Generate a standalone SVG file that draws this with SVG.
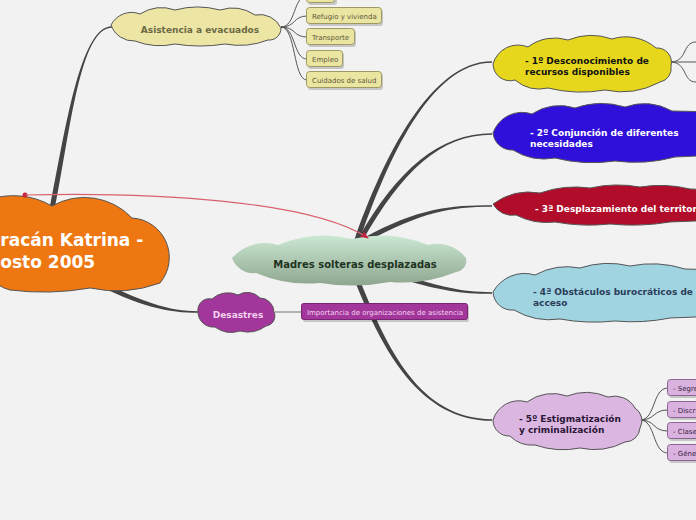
<svg xmlns="http://www.w3.org/2000/svg" width="696" height="520" viewBox="0 0 696 520">
<defs>
<linearGradient id="gc" x1="0" y1="0" x2="0" y2="1">
<stop offset="0" stop-color="#cbe8d2"/>
<stop offset="1" stop-color="#8ea68f"/>
</linearGradient>
<marker id="arr" viewBox="0 0 10 10" refX="9" refY="5" markerWidth="9" markerHeight="9" orient="auto" markerUnits="userSpaceOnUse">
<path d="M0,1 L10,5 L0,9 L3,5 Z" fill="#c8203c"/>
</marker>
</defs>
<style>
.cl{stroke:#555;stroke-width:1}
.tap{fill:#444}
.thin{fill:none;stroke:#555;stroke-width:1}
.t{font-family:"DejaVu Sans",Verdana,sans-serif;font-weight:bold}
.lf{font-family:"DejaVu Sans",Verdana,sans-serif;font-size:7px}
.ybox{fill:#ebe5a2;stroke:#9e9a62;stroke-width:1}
.pbox{fill:#d9b2df;stroke:#8a6690;stroke-width:1}
.sh{fill:#000;opacity:0.18}
</style>
<rect width="696" height="520" fill="#f2f2f2"/>

<g id="connectors">
<path class="tap" d="M359.4,240.8 C387.4,160.8 430,62.8 492,62.8 L492,61.2 C430,61.2 382.6,159.2 354.6,239.2 Z"/>
<path class="tap" d="M362.2,241.2 C402.2,171.2 440,134.8 492,134.8 L492,133.2 C440,133.2 397.8,168.8 357.8,238.8 Z"/>
<path class="tap" d="M366.2,242.2 C421.2,212.2 450,206.8 492,206.8 L492,205.2 C450,205.2 418.8,207.8 363.8,237.8 Z"/>
<path class="tap" d="M404.5,279.9 C439.5,289.9 460,293.8 492,293.8 L492,292.2 C460,292.2 440.5,286.1 405.5,276.1 Z"/>
<path class="tap" d="M355.7,282.9 C382.7,350.9 420,420.8 492,420.8 L492,419.2 C420,419.2 387.3,349.1 360.3,281.1 Z"/>
<path class="tap" d="M54.5,210.5 C70.5,130.5 80,27.8 112,27.8 L112,26.2 C80,26.2 65.5,129.5 49.5,209.5 Z"/>
<path class="tap" d="M88.8,280.2 C138.8,307.2 170,312.8 198,312.8 L198,311.2 C170,311.2 141.2,302.8 91.2,275.8 Z"/>
<path d="M275,312 L302,312" fill="none" stroke="#888" stroke-width="1.2"/>
<path class="thin" d="M281,27 C296,27 293,-4 307,-4"/>
<path class="thin" d="M281,27 C296,27 293,16 307,16"/>
<path class="thin" d="M281,27 C296,27 293,37 307,37"/>
<path class="thin" d="M281,27 C296,27 293,59 307,59"/>
<path class="thin" d="M281,27 C296,27 293,80 307,80"/>
<path class="thin" d="M670,62 C688,62 682,42 696,42"/>
<path class="thin" d="M670,62 L696,62"/>
<path class="thin" d="M670,62 C688,62 682,82 696,82"/>
<path class="thin" d="M640,420 C656,420 652,388 668,388"/>
<path class="thin" d="M640,420 C656,420 652,410 668,410"/>
<path class="thin" d="M640,420 C656,420 652,431 668,431"/>
<path class="thin" d="M640,420 C656,420 652,453 668,453"/>
</g>

<g id="n-katrina">
<path class="cl" fill="#ee7711" d="M-12,200 A77,77 0 0 1 52,206 A65.4,65.4 0 0 1 132,218 A39.6,39.6 0 0 1 160,283 A125.7,125.7 0 0 1 90,288 A268,268 0 0 1 10,290 A40,40 0 0 1 -20,250 A43.5,43.5 0 0 1 -12,200 Z"/>
<text class="t" x="-26" y="246" font-size="17" fill="#fff">Huracán Katrina -</text>
<text class="t" x="-25" y="268" font-size="17" fill="#fff">Agosto 2005</text>
</g>

<g id="n-central">
<path fill="url(#gc)" d="M232,258 A44,44 0 0 1 278,245 A117.7,117.7 0 0 1 352,239 A124,124 0 0 1 428,245 A36.7,36.7 0 0 1 466,258 A11.3,11.3 0 0 1 456,272 A141,141 0 0 1 390,282 A206,206 0 0 1 320,283 A133,133 0 0 1 256,273 A23,23 0 0 1 232,258 Z"/>
<text class="t" x="355" y="268" font-size="10" fill="#1f3322" text-anchor="middle">Madres solteras desplazadas</text>
</g>

<g id="n-asistencia">
<path class="cl" fill="#ece5a3" d="M111,25 A23,23 0 0 1 140,14 A40.8,40.8 0 0 1 175,10 A86,86 0 0 1 220,10 A41,41 0 0 1 255,15 A23.5,23.5 0 0 1 281,28 A11.8,11.8 0 0 1 268,40 A79,79 0 0 1 225,44 A157,157 0 0 1 175,44 A68.5,68.5 0 0 1 135,41 A24,24 0 0 1 111,25 Z"/>
<text class="t" x="200" y="33" font-size="9" fill="#6b6945" text-anchor="middle">Asistencia a evacuados</text>
</g>

<g id="l-top"><rect class="sh" x="308" y="-12" width="29" height="17" rx="3"/><rect class="ybox" x="306.5" y="-13.5" width="28" height="16" rx="3"/></g>
<g id="l-refugio"><rect class="sh" x="308" y="9" width="75" height="17" rx="3"/><rect class="ybox" x="306.5" y="7.5" width="75" height="16" rx="3"/><text class="lf" x="312" y="18.5" fill="#5e5a3a">Refugio y vivienda</text></g>
<g id="l-transporte"><rect class="sh" x="308" y="30" width="48" height="17" rx="3"/><rect class="ybox" x="306.5" y="28.5" width="48" height="16" rx="3"/><text class="lf" x="312" y="39.5" fill="#5e5a3a">Transporte</text></g>
<g id="l-empleo"><rect class="sh" x="308" y="52" width="36" height="17" rx="3"/><rect class="ybox" x="306.5" y="50.5" width="36" height="16" rx="3"/><text class="lf" x="312" y="61.5" fill="#5e5a3a">Empleo</text></g>
<g id="l-salud"><rect class="sh" x="308" y="73" width="75" height="17" rx="3"/><rect class="ybox" x="306.5" y="71.5" width="75" height="16" rx="3"/><text class="lf" x="312" y="82.5" fill="#5e5a3a">Cuidados de salud</text></g>

<g id="n-1">
<path class="cl" fill="#e6d71c" d="M493,64 A26,26 0 0 1 528,47 A44,44 0 0 1 568,40 A62.5,62.5 0 0 1 612,39 A46,46 0 0 1 656,48 A14.4,14.4 0 0 1 671,66 A13.8,13.8 0 0 1 660,82 A80,80 0 0 1 605,90 A137,137 0 0 1 548,88 A38,38 0 0 1 515,80 A17,17 0 0 1 493,64 Z"/>
<text class="t" x="525" y="64" font-size="9" fill="#111">- 1º Desconocimiento de</text>
<text class="t" x="525" y="75" font-size="9" fill="#111">recursos disponibles</text>
</g>

<g id="n-2">
<path class="cl" fill="#2f10db" d="M493,133 A30.7,30.7 0 0 1 532,114 A50,50 0 0 1 575,108 A80,80 0 0 1 625,107 A58,58 0 0 1 672,111 L720,112 L720,155 L675,157 A151.5,151.5 0 0 1 615,161 A151.5,151.5 0 0 1 555,158 A59,59 0 0 1 513,150 A19,19 0 0 1 493,133 Z"/>
<text class="t" x="530" y="136" font-size="9" fill="#fff">- 2º Conjunción de diferentes</text>
<text class="t" x="530" y="147" font-size="9" fill="#fff">necesidades</text>
</g>

<g id="n-3">
<path class="cl" fill="#b10c2a" d="M493,204 A61,61 0 0 1 540,193 A106.5,106.5 0 0 1 590,188 A126,126 0 0 1 640,187 A126,126 0 0 1 690,189 L720,190 L720,220 L670,222 A226,226 0 0 1 610,224 A190,190 0 0 1 555,222 A67,67 0 0 1 516,215 A22,22 0 0 1 493,204 Z"/>
<text class="t" x="535" y="212" font-size="9" fill="#fff">- 3ª Desplazamiento del territorio</text>
</g>

<g id="n-4">
<path class="cl" fill="#9fd4e0" d="M493,292 A36,36 0 0 1 535,275 A67,67 0 0 1 580,268 A91,91 0 0 1 630,266 A110,110 0 0 1 685,269 L720,270 L720,316 L670,318 A190,190 0 0 1 615,321 A190,190 0 0 1 560,319 A71,71 0 0 1 514,310 A19,19 0 0 1 493,292 Z"/>
<text class="t" x="533" y="295" font-size="9" fill="#2c3d5a">- 4ª Obstáculos burocráticos de</text>
<text class="t" x="533" y="306" font-size="9" fill="#2c3d5a">acceso</text>
</g>

<g id="n-5">
<path class="cl" fill="#dbb6e1" d="M493,420 A27,27 0 0 1 527,402 A43,43 0 0 1 567,396 A54.5,54.5 0 0 1 608,397 A23.5,23.5 0 0 1 635,408 A15,15 0 0 1 640,428 A15,15 0 0 1 625,442 A67,67 0 0 1 580,448 A86,86 0 0 1 535,445 A31,31 0 0 1 510,436 A16,16 0 0 1 493,420 Z"/>
<text class="t" x="519" y="422" font-size="9" fill="#2a1636">- 5º Estigmatización</text>
<text class="t" x="519" y="433" font-size="9" fill="#2a1636">y criminalización</text>
</g>

<g id="l-segregacion"><rect class="sh" x="669" y="381" width="40" height="17" rx="3"/><rect class="pbox" x="667.5" y="379.5" width="40" height="16" rx="3"/><text class="lf" x="673" y="390.5" fill="#3a2640">- Segregación</text></g>
<g id="l-discriminacion"><rect class="sh" x="669" y="403" width="40" height="17" rx="3"/><rect class="pbox" x="667.5" y="401.5" width="40" height="16" rx="3"/><text class="lf" x="673" y="412.5" fill="#3a2640">- Discriminación</text></g>
<g id="l-clase"><rect class="sh" x="669" y="424" width="40" height="17" rx="3"/><rect class="pbox" x="667.5" y="422.5" width="40" height="16" rx="3"/><text class="lf" x="673" y="433.5" fill="#3a2640">- Clase</text></g>
<g id="l-genero"><rect class="sh" x="669" y="446" width="40" height="17" rx="3"/><rect class="pbox" x="667.5" y="444.5" width="40" height="16" rx="3"/><text class="lf" x="673" y="455.5" fill="#3a2640">- Género</text></g>

<g id="n-desastres">
<path class="cl" fill="#a2369a" d="M198,312 A11.5,11.5 0 0 1 212,299 A23.6,23.6 0 0 1 238,295 A17.4,17.4 0 0 1 260,298 A14.3,14.3 0 0 1 274,312 A10,10 0 0 1 266,326 A30.8,30.8 0 0 1 240,331 A28,28 0 0 1 215,327 A15.3,15.3 0 0 1 198,312 Z"/>
<text class="t" x="238" y="318" font-size="9" fill="#f4d2f0" text-anchor="middle">Desastres</text>
</g>

<g id="l-importancia"><rect class="sh" x="303" y="305" width="166" height="17" rx="2"/><rect x="301.5" y="303.5" width="166" height="16" rx="2" fill="#a2369a" stroke="#7a2574"/><text class="lf" x="385" y="314.5" fill="#f2d4f0" text-anchor="middle">Importancia de organizaciones de asistencia</text></g>

<g id="relation">
<circle cx="25" cy="195" r="2.5" fill="#c8203c"/>
<path d="M25,195 C150,192 310,200 368,238" fill="none" stroke="#d9606e" stroke-width="1.2" marker-end="url(#arr)"/>
</g>
</svg>
